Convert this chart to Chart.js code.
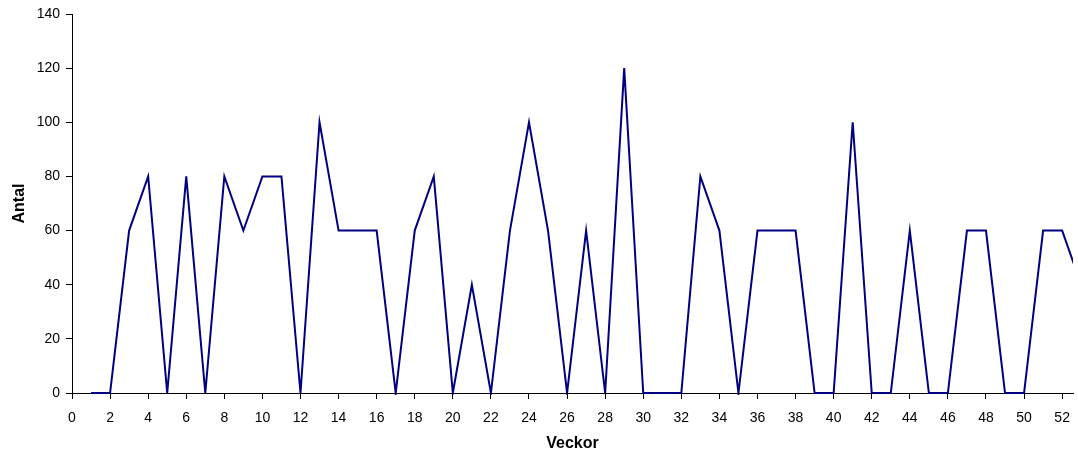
<!DOCTYPE html>
<html>
<head>
<meta charset="utf-8">
<script src="https://cdn.jsdelivr.net/npm/chart.js@4/dist/chart.umd.min.js"></script>
<style>
  html, body { margin: 0; padding: 0; background: #fff; }
  #wrap { width: 1078px; height: 455px; }
</style>
</head>
<body>
<div id="wrap"><canvas id="c" width="1078" height="455"></canvas></div>
<script>
// Week numbers and the count recorded for each week
const weeks = [1,2,3,4,5,6,7,8,9,10,11,12,13,14,15,16,17,18,19,20,21,22,23,24,25,26,
               27,28,29,30,31,32,33,34,35,36,37,38,39,40,41,42,43,44,45,46,47,48,49,50,51,52,53];
const antal = [0,0,60,80,0,80,0,80,60,80,80,0,100,60,60,60,0,60,80,0,40,0,60,100,60,0,
               60,0,120,0,0,0,80,60,0,60,60,60,0,0,100,0,0,60,0,0,60,60,0,0,60,60,40];
const yTitle = 'Antal';
const xTitle = 'Veckor';

const points = weeks.map((w, i) => ({ x: w, y: antal[i] }));
const FONT = '"Liberation Sans", Arial, sans-serif';

new Chart(document.getElementById('c'), {
  type: 'line',
  data: {
    datasets: [{
      data: points,
      borderColor: '#000080',
      borderWidth: 2,
      pointRadius: 0,
      pointHoverRadius: 0,
      tension: 0,
      fill: false,
      clip: { left: 2, top: 2, right: 0, bottom: 2 }
    }]
  },
  options: {
    responsive: false,
    animation: false,
    events: [],
    layout: { padding: { top: 14, right: 5, left: 0, bottom: 0 } },
    plugins: { legend: { display: false }, tooltip: { enabled: false } },
    scales: {
      x: {
        type: 'linear',
        min: 0,
        max: 52.57,
        // fixed axis band height; no extra room reserved for the last label
        afterFit: s => { s.height = 62; s.paddingRight = 0; s.paddingLeft = 0; },
        border: { color: '#000', width: 1 },
        grid: { drawOnChartArea: false, drawTicks: true, tickLength: 6, color: '#000' },
        ticks: {
          stepSize: 2,
          includeBounds: false,
          autoSkip: false,
          maxRotation: 0,
          padding: 11,
          color: '#000',
          font: { family: FONT, size: 14 }
        },
        title: {
          display: true,
          text: xTitle,
          color: '#000',
          font: { family: FONT, size: 16, weight: 'bold' },
          padding: { top: 0, bottom: 2 }
        }
      },
      y: {
        type: 'linear',
        min: 0,
        max: 140,
        afterFit: s => { s.width = 72; s.paddingTop = 0; s.paddingBottom = 0; },
        border: { color: '#000', width: 1 },
        grid: { drawOnChartArea: false, drawTicks: true, tickLength: 6, color: '#000' },
        ticks: {
          stepSize: 20,
          padding: 6,
          color: '#000',
          font: { family: FONT, size: 14 }
        },
        title: {
          display: true,
          text: yTitle,
          color: '#000',
          font: { family: FONT, size: 16, weight: 'bold' },
          padding: { top: 10, bottom: 0 }
        }
      }
    }
  }
});
</script>
</body>
</html>
